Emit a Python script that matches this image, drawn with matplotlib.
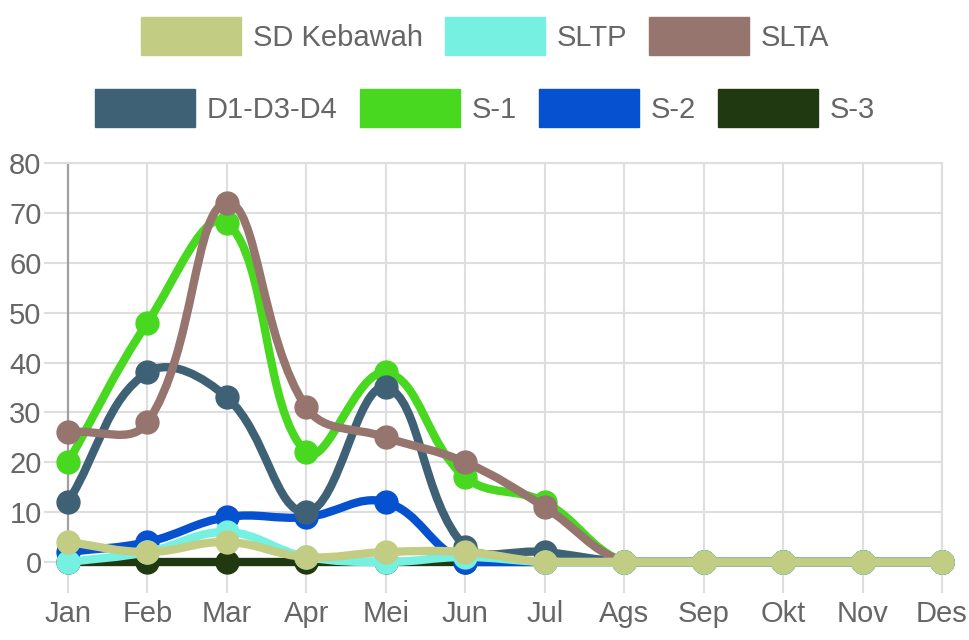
import numpy as np
import matplotlib.pyplot as plt
from matplotlib.path import Path
from matplotlib.patches import PathPatch, Patch
from matplotlib import font_manager

months = ['Jan', 'Feb', 'Mar', 'Apr', 'Mei', 'Jun', 'Jul', 'Ags', 'Sep', 'Okt', 'Nov', 'Des']

sd_kebawah = [4, 2, 4, 1, 2, 2, 0, 0, 0, 0, 0, 0]
sltp = [0, 2, 6, 1, 0, 1, 0, 0, 0, 0, 0, 0]
slta = [26, 28, 72, 31, 25, 20, 11, 0, 0, 0, 0, 0]
d1_d3_d4 = [12, 38, 33, 10, 35, 3, 2, 0, 0, 0, 0, 0]
s1 = [20, 48, 68, 22, 38, 17, 12, 0, 0, 0, 0, 0]
s2 = [2, 4, 9, 9, 12, 0, 0, 0, 0, 0, 0, 0]
s3 = [0, 0, 0, 0, 0, 0, 0, 0, 0, 0, 0, 0]

names = ['SD Kebawah', 'SLTP', 'SLTA', 'D1-D3-D4', 'S-1', 'S-2', 'S-3']
series = [sd_kebawah, sltp, slta, d1_d3_d4, s1, s2, s3]
colors = ['#c2cd83', '#75f0e1', '#96756e', '#3e6175', '#48d81f', '#0551d0', '#203910']

available = {f.name for f in font_manager.fontManager.ttflist}
fam = ['Liberation Sans Narrow', 'DejaVu Sans'] if 'Liberation Sans Narrow' in available else ['Liberation Sans', 'DejaVu Sans']
plt.rcParams['font.family'] = fam

fig = plt.figure(figsize=(9.7, 6.4), dpi=100)
ax = fig.add_axes([68 / 970, 1 - 562 / 640, 874 / 970, 399 / 640])
ax.set_xlim(0, 11)
ax.set_ylim(0, 80)

grid_c = '#dedede'
text_c = '#666666'
ax.set_xticks(range(len(months)))
ax.set_xticklabels(months)
ax.set_yticks(range(0, 81, 10))
ax.grid(True, color=grid_c, lw=1.5)
ax.set_axisbelow(True)
for s in ['top', 'right', 'bottom']:
    ax.spines[s].set_color(grid_c)
    ax.spines[s].set_linewidth(1.5)
ax.spines['left'].set_color('#a0a0a0')
ax.spines['left'].set_linewidth(1.6)
ax.tick_params(axis='x', length=22, width=1.5, color=grid_c, pad=5, labelsize=21, labelcolor=text_c)
ax.tick_params(axis='y', length=17, width=1.5, color=grid_c, pad=2, labelsize=21, labelcolor=text_c)


def spline_path(xs, ys, tension=0.4):
    # chart.js style bezier, control points computed in pixel space
    pts = ax.transData.transform(np.column_stack([xs, ys]))
    n = len(pts)
    codes = [Path.MOVETO]
    cps = []
    for i in range(n):
        prev = pts[i - 1] if i > 0 else pts[i]
        nxt = pts[i + 1] if i < n - 1 else pts[i]
        cur = pts[i]
        d01 = np.hypot(*(cur - prev))
        d12 = np.hypot(*(nxt - cur))
        tot = d01 + d12
        s01 = d01 / tot if tot else 0
        s12 = d12 / tot if tot else 0
        c_prev = cur - tension * s01 * (nxt - prev)
        c_next = cur + tension * s12 * (nxt - prev)
        cps.append((c_prev, c_next))
    out = []
    for i in range(1, n):
        out += [cps[i - 1][1], cps[i][0], pts[i]]
        codes += [Path.CURVE4] * 3
    verts = ax.transData.inverted().transform(np.vstack([pts[:1]] + [np.array(out)]))
    verts[:, 0] = np.clip(verts[:, 0], 0, 11)
    verts[:, 1] = np.clip(verts[:, 1], 0, 80)
    return Path(verts, codes)


x = np.arange(len(months))
for k in reversed(range(len(series))):
    z = 10 + (len(series) - k) * 2
    p = spline_path(x, np.array(series[k], dtype=float))
    ax.add_patch(PathPatch(p, fill=False, edgecolor=colors[k], lw=6,
                           capstyle='round', joinstyle='round', zorder=z, clip_on=False))
    ax.plot(x, series[k], 'o', color=colors[k], ms=16.5, mec=colors[k], zorder=z + 1, clip_on=False)

fs = 21
px = fs / 0.72
handles = [Patch(facecolor=c, edgecolor=c) for c in colors]
leg_kw = dict(loc='center', frameon=False, fontsize=fs, handlelength=100 / px, handleheight=48 / px,
              handletextpad=12 / px, columnspacing=22 / px, borderpad=0, labelcolor=text_c)
leg1 = fig.legend(handles[:3], names[:3], ncol=3, bbox_to_anchor=(0.5, 1 - 36 / 640), **leg_kw)
leg2 = fig.legend(handles[3:], names[3:], ncol=4, bbox_to_anchor=(0.5, 1 - 108 / 640), **leg_kw)

fig.savefig('out.png', dpi=100)
